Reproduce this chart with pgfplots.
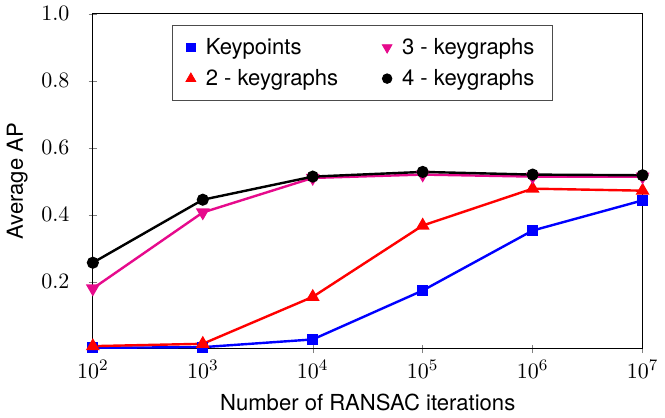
\documentclass[border=0pt]{standalone}
\usepackage{fontspec}
\setmainfont{TeX Gyre Heros}
\usepackage{pgfplots}
\pgfplotsset{compat=1.18}
\definecolor{kgpink}{RGB}{230,10,140}
\begin{document}
\begin{tikzpicture}[font=\fontsize{11}{13}\selectfont]
\begin{axis}[
  scale only axis,
  width=274pt, height=167pt,
  xmode=log, log basis x=10,
  xmin=1e2, xmax=1e7,
  ymin=0, ymax=1,
  ytick={0.2,0.4,0.6,0.8,1.0},
  yticklabel style={/pgf/number format/fixed,/pgf/number format/precision=1,/pgf/number format/fixed zerofill, xshift=-6pt},
  tick label style={font=\fontsize{11}{13}\selectfont},
  label style={font=\fontsize{11}{13}\selectfont},
  xtick={1e2,1e3,1e4,1e5,1e6,1e7},
  minor xtick={},
  tick align=center,
  xtick pos=left, ytick pos=left,
  xlabel={Number of RANSAC iterations},
  ylabel={Average AP},
  xlabel style={yshift=-1pt},
  legend columns=2,
  legend style={at={(0.49,0.965)},anchor=north,draw=black!70,
    font=\fontsize{11}{13}\selectfont,
    /tikz/every even column/.append style={column sep=20pt},
    row sep=2pt, inner xsep=7pt, inner ysep=4pt},
  legend cell align=left,
]
\addlegendimage{only marks, mark=square*, blue, mark size=2.2pt}
\addlegendentry{\hspace{3pt}Keypoints}
\addlegendimage{only marks, mark=triangle*, mark options={rotate=180}, kgpink, mark size=2.8pt}
\addlegendentry{\hspace{3pt}3 - keygraphs}
\addlegendimage{only marks, mark=triangle*, red, mark size=2.8pt}
\addlegendentry{\hspace{3pt}2 - keygraphs}
\addlegendimage{only marks, mark=*, black, mark size=2.4pt}
\addlegendentry{\hspace{3pt}4 - keygraphs}

\addplot[forget plot, blue, line width=1.2pt, mark=square*, mark size=2.2pt] coordinates {
 (1e2,0.003) (1e3,0.005) (1e4,0.028) (1e5,0.174) (1e6,0.353) (1e7,0.443)};
\addplot[forget plot, red, line width=1.2pt, mark=triangle*, mark size=2.8pt] coordinates {
 (1e2,0.008) (1e3,0.015) (1e4,0.155) (1e5,0.368) (1e6,0.478) (1e7,0.472)};
\addplot[forget plot, kgpink, line width=1.2pt, mark=triangle*, mark options={rotate=180}, mark size=2.8pt] coordinates {
 (1e2,0.18) (1e3,0.407) (1e4,0.51) (1e5,0.52) (1e6,0.514) (1e7,0.514)};
\addplot[forget plot, black, line width=1.2pt, mark=*, mark size=2.4pt] coordinates {
 (1e2,0.257) (1e3,0.445) (1e4,0.514) (1e5,0.528) (1e6,0.52) (1e7,0.518)};
\end{axis}
\end{tikzpicture}
\end{document}
